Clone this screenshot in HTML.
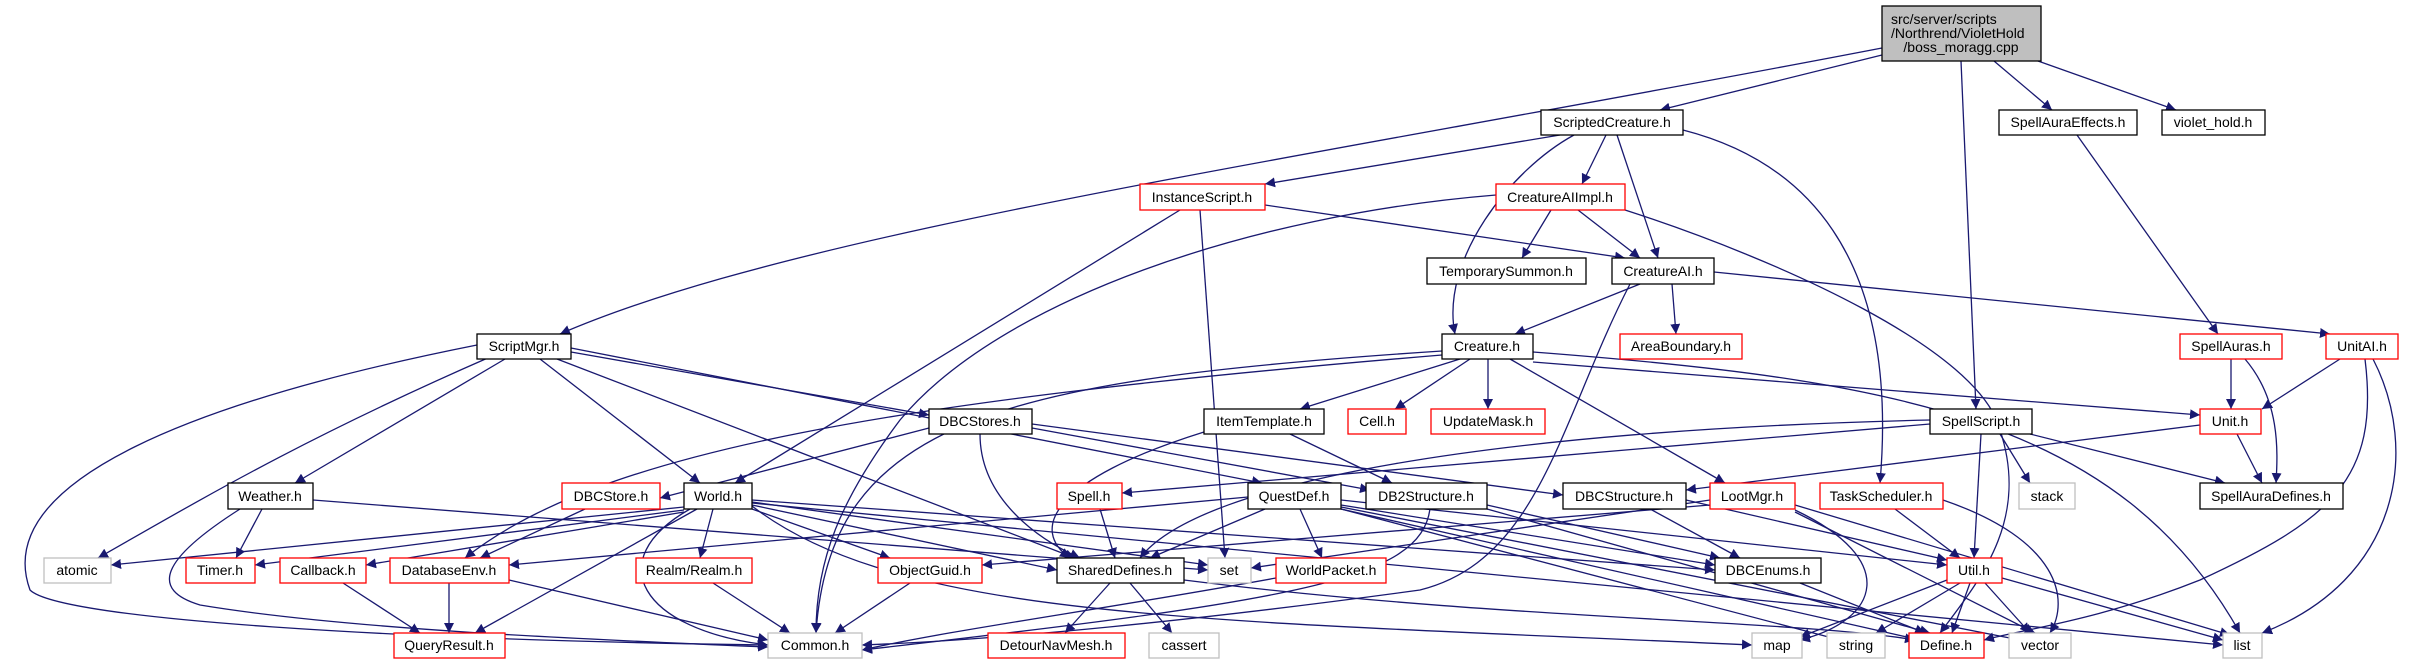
<!DOCTYPE html>
<html><head><meta charset="utf-8"><style>
html,body{margin:0;padding:0;background:#fff;}
svg{display:block;}
text{font-family:"Liberation Sans",sans-serif;font-size:14px;fill:#000;text-anchor:middle;}
.e{fill:none;stroke:#191970;stroke-width:1.3;marker-end:url(#a);}
.b{fill:#fff;stroke:#000;stroke-width:1.3;}
.r{fill:#fff;stroke:#ff0000;stroke-width:1.3;}
.g{fill:#fff;stroke:#bfbfbf;stroke-width:1.3;}
</style></head><body>
<svg width="2418" height="664" viewBox="0 0 2418 664" xmlns="http://www.w3.org/2000/svg">
<defs><marker id="a" viewBox="0 0 10 10" refX="10" refY="5" markerWidth="10" markerHeight="10" markerUnits="userSpaceOnUse" orient="auto"><path d="M0,0 L10,5 L0,10 z" fill="#191970"/></marker></defs>
<g>
<path class="e" d="M1882,55 L1660,110"/>
<path class="e" d="M1882,48 C1300,160 800,230 560,334"/>
<path class="e" d="M1961,61 L1976,409"/>
<path class="e" d="M1994,61 L2052,110"/>
<path class="e" d="M2038,61 L2176,110"/>
<path class="e" d="M2077,135 L2218,334"/>
<path class="e" d="M1560,135 L1265,184"/>
<path class="e" d="M1606,135 L1582,184"/>
<path class="e" d="M1617,135 L1658,258"/>
<path class="e" d="M1574,135 C1510,170 1440,260 1455,334"/>
<path class="e" d="M1683,130 C1800,160 1900,250 1880,483"/>
<path class="e" d="M1180,210 L735,483"/>
<path class="e" d="M1200,210 L1225,558"/>
<path class="e" d="M1265,205 L1625,258"/>
<path class="e" d="M1551,210 L1522,258"/>
<path class="e" d="M1578,210 L1640,258"/>
<path class="e" d="M1496,195 C1250,215 1000,300 900,420 C840,500 816,560 816,633"/>
<path class="e" d="M1625,210 C1780,260 1980,350 2000,430 C2030,520 1980,580 1940,633"/>
<path class="e" d="M1640,284 L1515,334"/>
<path class="e" d="M1672,284 L1676,334"/>
<path class="e" d="M1714,272 L2330,334"/>
<path class="e" d="M1630,284 C1560,420 1540,560 1420,590 C1200,620 1000,640 862,645"/>
<path class="e" d="M1460,359 L1300,409"/>
<path class="e" d="M1470,359 L1395,409"/>
<path class="e" d="M1488,359 L1488,409"/>
<path class="e" d="M1510,359 L1725,483"/>
<path class="e" d="M1533,362 L2200,415"/>
<path class="e" d="M1533,352 C1900,380 2120,420 2240,633"/>
<path class="e" d="M1442,351 C1000,380 830,420 816,633"/>
<path class="e" d="M1442,355 C900,400 600,450 465,558"/>
<path class="e" d="M505,359 L295,483"/>
<path class="e" d="M490,357 C300,440 200,500 98,558"/>
<path class="e" d="M477,345 C200,400 -10,480 30,590 C60,620 400,640 768,645"/>
<path class="e" d="M540,359 L700,483"/>
<path class="e" d="M571,352 L929,415"/>
<path class="e" d="M571,348 L1262,483"/>
<path class="e" d="M557,359 L1075,558"/>
<path class="e" d="M929,428 L660,498"/>
<path class="e" d="M980,434 C980,500 1040,540 1080,558"/>
<path class="e" d="M1032,428 L1370,490"/>
<path class="e" d="M1032,424 L1563,495"/>
<path class="e" d="M1204,432 C1050,480 1030,530 1070,558"/>
<path class="e" d="M1290,434 L1392,483"/>
<path class="e" d="M1930,424 L1122,493"/>
<path class="e" d="M1930,420 C1500,430 1200,480 1140,558"/>
<path class="e" d="M2000,434 L2030,483"/>
<path class="e" d="M2030,434 L2225,483"/>
<path class="e" d="M1981,434 L1974,558"/>
<path class="e" d="M2200,425 L1686,490"/>
<path class="e" d="M2237,434 L2262,483"/>
<path class="e" d="M2231,359 L2231,409"/>
<path class="e" d="M2245,359 C2280,400 2278,450 2276,483"/>
<path class="e" d="M2340,359 L2262,409"/>
<path class="e" d="M2365,359 C2380,480 2330,520 2200,580 C2100,620 2020,630 1984,640"/>
<path class="e" d="M2373,359 C2420,450 2400,580 2262,633"/>
<path class="e" d="M262,509 L236,558"/>
<path class="e" d="M240,509 C160,560 150,590 200,605 C350,630 600,640 768,647"/>
<path class="e" d="M313,500 L1208,570"/>
<path class="e" d="M585,509 L480,558"/>
<path class="e" d="M684,507 L111,565"/>
<path class="e" d="M684,510 L255,565"/>
<path class="e" d="M684,512 L366,565"/>
<path class="e" d="M697,509 L475,633"/>
<path class="e" d="M690,509 C600,560 640,630 768,645"/>
<path class="e" d="M713,509 L700,558"/>
<path class="e" d="M752,509 L890,558"/>
<path class="e" d="M752,505 L1057,570"/>
<path class="e" d="M752,502 L1208,565"/>
<path class="e" d="M752,500 L1715,570"/>
<path class="e" d="M752,506 C900,620 1200,620 1752,645"/>
<path class="e" d="M752,503 L2223,645"/>
<path class="e" d="M713,583 L790,633"/>
<path class="e" d="M910,583 L835,633"/>
<path class="e" d="M449,583 L449,633"/>
<path class="e" d="M509,580 L768,640"/>
<path class="e" d="M343,583 L420,633"/>
<path class="e" d="M1110,583 L1065,633"/>
<path class="e" d="M1130,583 L1172,633"/>
<path class="e" d="M1184,580 C1500,620 1800,620 1915,640"/>
<path class="e" d="M1248,497 L509,565"/>
<path class="e" d="M1265,509 L1150,558"/>
<path class="e" d="M1300,509 L1322,558"/>
<path class="e" d="M1341,505 L1715,565"/>
<path class="e" d="M1341,500 L1947,565"/>
<path class="e" d="M1341,509 L1920,640"/>
<path class="e" d="M1341,507 L2020,640"/>
<path class="e" d="M1341,509 L1840,640"/>
<path class="e" d="M1276,578 C1100,610 950,630 862,650"/>
<path class="e" d="M1430,509 C1420,580 1300,600 862,650"/>
<path class="e" d="M1487,505 L1720,558"/>
<path class="e" d="M1487,509 L1930,633"/>
<path class="e" d="M1650,509 L1740,558"/>
<path class="e" d="M1686,500 L1947,560"/>
<path class="e" d="M1710,500 L1251,568"/>
<path class="e" d="M1710,505 L982,565"/>
<path class="e" d="M1795,510 C1900,560 1880,620 1800,640"/>
<path class="e" d="M1795,505 L2230,635"/>
<path class="e" d="M1795,512 L2035,633"/>
<path class="e" d="M1895,509 L1960,558"/>
<path class="e" d="M1943,500 C2060,540 2070,600 2050,633"/>
<path class="e" d="M1947,580 L1800,637"/>
<path class="e" d="M1960,583 L1876,633"/>
<path class="e" d="M1970,583 L1952,633"/>
<path class="e" d="M1985,583 L2030,633"/>
<path class="e" d="M2002,578 L2223,640"/>
<path class="e" d="M1800,583 L1925,633"/>
<path class="e" d="M1100,509 L1115,558"/>
</g>
<g>
<rect x="1882" y="6" width="159" height="55" fill="#bfbfbf" stroke="#000" stroke-width="1.3"/>
<text x="1961" y="24" style="text-anchor:start" dx="-70">src/server/scripts</text>
<text x="1961" y="38" style="text-anchor:start" dx="-70">/Northrend/VioletHold</text>
<text x="1961" y="52">/boss_moragg.cpp</text>
<rect class="b" x="1541" y="110" width="142" height="25"/><text x="1612" y="127">ScriptedCreature.h</text>
<rect class="b" x="1999" y="110" width="138" height="25"/><text x="2068" y="127">SpellAuraEffects.h</text>
<rect class="b" x="2162" y="110" width="103" height="25"/><text x="2213" y="127">violet_hold.h</text>
<rect class="r" x="1140" y="184" width="125" height="26"/><text x="1202" y="202">InstanceScript.h</text>
<rect class="r" x="1496" y="184" width="129" height="26"/><text x="1560" y="202">CreatureAIImpl.h</text>
<rect class="b" x="1427" y="258" width="159" height="26"/><text x="1506" y="276">TemporarySummon.h</text>
<rect class="b" x="1612" y="258" width="102" height="26"/><text x="1663" y="276">CreatureAI.h</text>
<rect class="r" x="1620" y="334" width="122" height="25"/><text x="1681" y="351">AreaBoundary.h</text>
<rect class="r" x="2180" y="334" width="102" height="25"/><text x="2231" y="351">SpellAuras.h</text>
<rect class="r" x="2326" y="334" width="72" height="25"/><text x="2362" y="351">UnitAI.h</text>
<rect class="b" x="477" y="334" width="94" height="25"/><text x="524" y="351">ScriptMgr.h</text>
<rect class="b" x="1442" y="334" width="91" height="25"/><text x="1487" y="351">Creature.h</text>
<rect class="b" x="929" y="409" width="103" height="25"/><text x="980" y="426">DBCStores.h</text>
<rect class="b" x="1204" y="409" width="120" height="25"/><text x="1264" y="426">ItemTemplate.h</text>
<rect class="r" x="1348" y="409" width="58" height="25"/><text x="1377" y="426">Cell.h</text>
<rect class="r" x="1431" y="409" width="114" height="25"/><text x="1488" y="426">UpdateMask.h</text>
<rect class="b" x="1930" y="409" width="102" height="25"/><text x="1981" y="426">SpellScript.h</text>
<rect class="r" x="2200" y="409" width="61" height="25"/><text x="2230" y="426">Unit.h</text>
<rect class="b" x="228" y="483" width="85" height="26"/><text x="270" y="501">Weather.h</text>
<rect class="r" x="562" y="483" width="98" height="26"/><text x="611" y="501">DBCStore.h</text>
<rect class="b" x="684" y="483" width="68" height="26"/><text x="718" y="501">World.h</text>
<rect class="r" x="1057" y="483" width="65" height="26"/><text x="1089" y="501">Spell.h</text>
<rect class="b" x="1248" y="483" width="93" height="26"/><text x="1294" y="501">QuestDef.h</text>
<rect class="b" x="1366" y="483" width="121" height="26"/><text x="1426" y="501">DB2Structure.h</text>
<rect class="b" x="1563" y="483" width="123" height="26"/><text x="1624" y="501">DBCStructure.h</text>
<rect class="r" x="1710" y="483" width="85" height="26"/><text x="1752" y="501">LootMgr.h</text>
<rect class="r" x="1820" y="483" width="123" height="26"/><text x="1881" y="501">TaskScheduler.h</text>
<rect class="g" x="2019" y="483" width="56" height="26"/><text x="2047" y="501">stack</text>
<rect class="b" x="2200" y="483" width="143" height="26"/><text x="2271" y="501">SpellAuraDefines.h</text>
<rect class="g" x="44" y="558" width="67" height="25"/><text x="77" y="575">atomic</text>
<rect class="r" x="186" y="558" width="69" height="25"/><text x="220" y="575">Timer.h</text>
<rect class="r" x="280" y="558" width="86" height="25"/><text x="323" y="575">Callback.h</text>
<rect class="r" x="390" y="558" width="119" height="25"/><text x="449" y="575">DatabaseEnv.h</text>
<rect class="r" x="636" y="558" width="116" height="25"/><text x="694" y="575">Realm/Realm.h</text>
<rect class="r" x="878" y="558" width="104" height="25"/><text x="930" y="575">ObjectGuid.h</text>
<rect class="b" x="1057" y="558" width="127" height="25"/><text x="1120" y="575">SharedDefines.h</text>
<rect class="g" x="1208" y="558" width="43" height="25"/><text x="1229" y="575">set</text>
<rect class="r" x="1276" y="558" width="110" height="25"/><text x="1331" y="575">WorldPacket.h</text>
<rect class="b" x="1715" y="558" width="106" height="25"/><text x="1768" y="575">DBCEnums.h</text>
<rect class="r" x="1947" y="558" width="55" height="25"/><text x="1974" y="575">Util.h</text>
<rect class="r" x="394" y="633" width="111" height="25"/><text x="449" y="650">QueryResult.h</text>
<rect class="g" x="768" y="633" width="94" height="25"/><text x="815" y="650">Common.h</text>
<rect class="r" x="988" y="633" width="137" height="25"/><text x="1056" y="650">DetourNavMesh.h</text>
<rect class="g" x="1149" y="633" width="70" height="25"/><text x="1184" y="650">cassert</text>
<rect class="g" x="1752" y="633" width="50" height="25"/><text x="1777" y="650">map</text>
<rect class="g" x="1827" y="633" width="58" height="25"/><text x="1856" y="650">string</text>
<rect class="r" x="1909" y="633" width="75" height="25"/><text x="1946" y="650">Define.h</text>
<rect class="g" x="2009" y="633" width="62" height="25"/><text x="2040" y="650">vector</text>
<rect class="g" x="2223" y="633" width="39" height="25"/><text x="2242" y="650">list</text>
</g>
</svg>
</body></html>
